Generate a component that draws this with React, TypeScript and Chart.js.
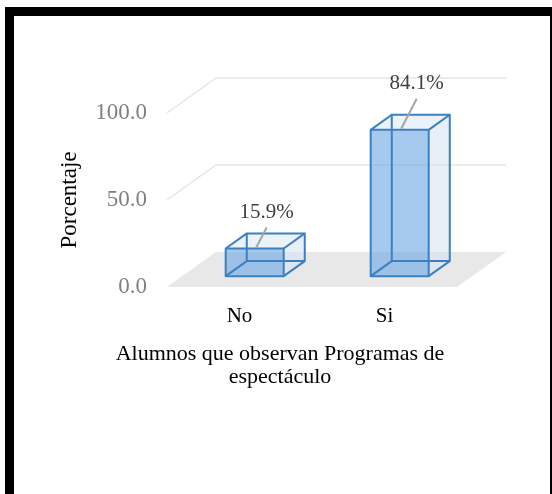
import React, { useEffect, useRef } from "react";
import { Chart, registerables } from "chart.js";

Chart.register(...registerables);

// ---- data ----
const categories = ["No", "Si"];
const percentages = [15.9, 84.1];
const dataLabels = ["15.9%", "84.1%"];
const yMin = 0;
const yMax = 100;
const yStep = 50;
const yTitle = "Porcentaje";
const xTitleLines = ["Alumnos que observan Programas de", "espectáculo"];

// ---- style ----
const FONT = "'Liberation Serif', 'Times New Roman', serif";
const DEPTH = { x: 49, y: -35 }; // projection of the full floor depth
const BAR_FRONT = 0.31; // depth fraction of bar front face
const BAR_BACK = 0.74; // depth fraction of bar back face
const LABEL_OFFSETS = [
  { dx: 12, dy: -36 },
  { dx: 17, dy: -46 },
];
const EDGE = "#3b7fc4";
const FRONT_FILL = "rgba(110,170,228,0.62)";
const SIDE_FILL = "rgba(214,226,238,0.55)";
const TOP_FILL = "rgba(222,233,244,0.6)";
const FLOOR = "#e8e8e8";
const GRID = "#e6e6e6";

const threeD = {
  id: "threeD",
  beforeDraw(chart: any) {
    const { ctx, width, height } = chart;
    ctx.save();
    ctx.fillStyle = "#ffffff";
    ctx.fillRect(0, 0, width, height);
    ctx.fillStyle = "#000000";
    ctx.fillRect(5, 7, 9, height - 7);
    ctx.fillRect(5, 7, width - 5, 9);
    ctx.fillRect(550, 7, 2, height - 7);
    ctx.restore();
  },
  beforeDatasetsDraw(chart: any) {
    const { ctx, chartArea } = chart;
    const y = chart.scales.y;
    const { left, right } = chartArea;
    const base = y.getPixelForValue(yMin);
    ctx.save();
    // floor
    ctx.fillStyle = FLOOR;
    ctx.beginPath();
    ctx.moveTo(left, base);
    ctx.lineTo(right, base);
    ctx.lineTo(right + DEPTH.x, base + DEPTH.y);
    ctx.lineTo(left + DEPTH.x, base + DEPTH.y);
    ctx.closePath();
    ctx.fill();
    // gridlines on side + back walls
    ctx.strokeStyle = GRID;
    ctx.lineWidth = 1.5;
    y.ticks.forEach((t: any) => {
      if (t.value === yMin) return;
      const py = y.getPixelForValue(t.value);
      ctx.beginPath();
      ctx.moveTo(left, py);
      ctx.lineTo(left + DEPTH.x, py + DEPTH.y);
      ctx.lineTo(right + DEPTH.x, py + DEPTH.y);
      ctx.stroke();
    });
    ctx.restore();
  },
  afterDatasetsDraw(chart: any) {
    const { ctx } = chart;
    const meta = chart.getDatasetMeta(0);
    ctx.save();
    meta.data.forEach((el: any, i: number) => {
      const w = el.width;
      const fx = DEPTH.x * BAR_FRONT;
      const fy = DEPTH.y * BAR_FRONT;
      const bx = DEPTH.x * (BAR_BACK - BAR_FRONT);
      const by = DEPTH.y * (BAR_BACK - BAR_FRONT);
      const x0 = el.x - w / 2 + fx;
      const x1 = el.x + w / 2 + fx;
      const yT = el.y + fy;
      const yB = el.base + fy;
      const poly = (pts: number[][], fill: string) => {
        ctx.beginPath();
        ctx.moveTo(pts[0][0], pts[0][1]);
        for (let k = 1; k < pts.length; k++) ctx.lineTo(pts[k][0], pts[k][1]);
        ctx.closePath();
        ctx.fillStyle = fill;
        ctx.fill();
      };
      // side face
      poly([[x1, yT], [x1 + bx, yT + by], [x1 + bx, yB + by], [x1, yB]], SIDE_FILL);
      // top face
      poly([[x0, yT], [x0 + bx, yT + by], [x1 + bx, yT + by], [x1, yT]], TOP_FILL);
      // front face
      poly([[x0, yT], [x1, yT], [x1, yB], [x0, yB]], FRONT_FILL);
      // edges
      ctx.strokeStyle = EDGE;
      ctx.lineWidth = 2;
      ctx.lineJoin = "round";
      const line = (a: number[], b: number[]) => {
        ctx.beginPath();
        ctx.moveTo(a[0], a[1]);
        ctx.lineTo(b[0], b[1]);
        ctx.stroke();
      };
      // back rectangle
      ctx.strokeRect(x0 + bx, yT + by, x1 - x0, yB - yT);
      // depth edges
      line([x0, yT], [x0 + bx, yT + by]);
      line([x1, yT], [x1 + bx, yT + by]);
      line([x0, yB], [x0 + bx, yB + by]);
      line([x1, yB], [x1 + bx, yB + by]);
      // front rectangle
      ctx.strokeRect(x0, yT, x1 - x0, yB - yT);

      // data label + leader line
      const off = LABEL_OFFSETS[i] || { dx: 15, dy: -40 };
      const cx = el.x + fx;
      const lx = cx + off.dx;
      const ly = yT + off.dy;
      ctx.strokeStyle = "#a6a6a6";
      ctx.lineWidth = 2;
      line([lx, ly + 15], [cx + 1.5, yT - 1]);
      ctx.fillStyle = "#404040";
      ctx.font = `21px ${FONT}`;
      ctx.textAlign = "center";
      ctx.textBaseline = "middle";
      ctx.fillText(dataLabels[i], lx, ly);
    });
    ctx.restore();
  },
  afterDraw(chart: any) {
    const { ctx } = chart;
    ctx.save();
    ctx.fillStyle = "#000000";
    ctx.font = `22px ${FONT}`;
    ctx.textAlign = "center";
    ctx.textBaseline = "middle";
    xTitleLines.forEach((t, i) => ctx.fillText(t, 280, 354 + i * 23));
    ctx.restore();
  },
};

export default function App() {
  const ref = useRef<HTMLCanvasElement | null>(null);
  useEffect(() => {
    if (!ref.current) return;
    const chart = new Chart(ref.current, {
      type: "bar",
      data: {
        labels: categories,
        datasets: [
          {
            data: percentages,
            backgroundColor: "rgba(0,0,0,0)",
            borderWidth: 0,
            categoryPercentage: 0.8,
            barPercentage: 0.5,
          },
        ],
      },
      options: {
        animation: false,
        responsive: false,
        events: [],
        layout: { padding: { left: 56, right: 95, top: 113, bottom: 0 } },
        plugins: {
          legend: { display: false },
          tooltip: { enabled: false },
        },
        scales: {
          x: {
            type: "category",
            offset: true,
            grid: { display: false, drawTicks: false },
            border: { display: false },
            ticks: {
              color: "#000000",
              padding: 17,
              font: { family: FONT, size: 21 },
            },
            afterFit: (s: any) => {
              s.height = 207;
            },
          },
          y: {
            min: yMin,
            max: yMax,
            grid: { display: false, drawTicks: false },
            border: { display: false },
            ticks: {
              stepSize: yStep,
              color: "#808080",
              padding: 20,
              font: { family: FONT, size: 23 },
              callback: (v: any) => Number(v).toFixed(1),
            },
            title: {
              display: true,
              text: yTitle,
              color: "#000000",
              padding: { top: 0, bottom: 0 },
              font: { family: FONT, size: 23 },
            },
            afterFit: (s: any) => {
              s.width = 111;
            },
          },
        },
      },
      plugins: [threeD],
    });
    return () => chart.destroy();
  }, []);
  return (
    <div style={{ position: "fixed", left: 0, top: 0, width: 552, height: 494 }}>
      <canvas ref={ref} width={552} height={494} />
    </div>
  );
}
